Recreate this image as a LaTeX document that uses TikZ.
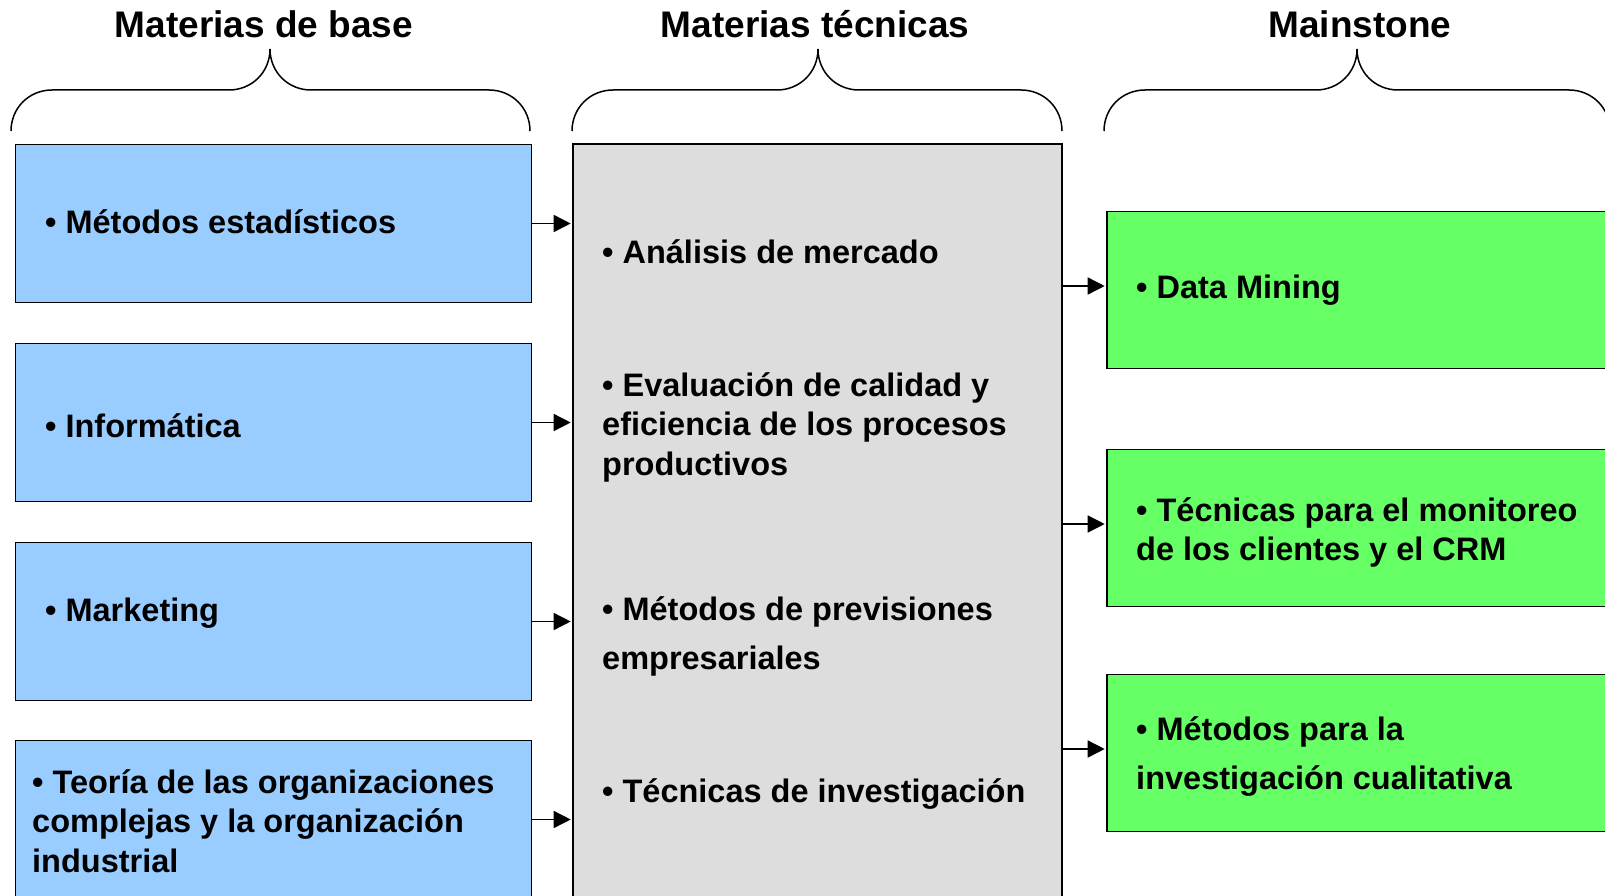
\documentclass[tikz,border=0pt]{standalone}
\usepackage{fontspec}
\setmainfont{Liberation Sans}
\usetikzlibrary{arrows.meta}
\definecolor{baseblue}{HTML}{99CCFF}
\definecolor{techgray}{HTML}{DDDDDD}
\definecolor{maingreen}{HTML}{66FF66}
\begin{document}
\begin{tikzpicture}[x=1pt,y=-1pt,
  every node/.append style={inner sep=0pt},
  box/.style={draw=black,line width=1.6pt,rectangle},
  basebox/.style={box,fill=baseblue,minimum width=516pt,minimum height=158pt},
  techbox/.style={box,fill=techgray,minimum width=489pt,minimum height=782pt},
  mainbox/.style={box,fill=maingreen,minimum width=520pt,minimum height=157pt},
  item/.style={anchor=base west,align=left,font=\fontsize{32.5}{39.5}\selectfont\bfseries},
  wideitem/.style={item,font=\fontsize{32.5}{49}\selectfont\bfseries},
  heading/.style={anchor=base,font=\fontsize{37}{44}\selectfont\bfseries},
  link/.style={line width=1.5pt,-{Triangle[length=17pt,width=17pt]},shorten >=1.5pt},
  curly/.style={line width=1.5pt}]
\useasboundingbox (0,0) rectangle (1605,896);
% headings
\node[heading] (baseT) at (264,38) {Materias de base};
\node[heading] (techT) at (815,38) {Materias técnicas};
\node[heading] (mainT) at (1360,38) {Mainstone};
% braces
\foreach \l/\m/\r in {11/270/530, 572/818/1062, 1104/1357/1610}
  \draw[curly] (\l,131) .. controls (\l,108) and ({\l+18},90) .. ({\l+41},90)
    -- ({\m-41},90) .. controls ({\m-18},90) and (\m,72) .. (\m,49)
    .. controls (\m,72) and ({\m+18},90) .. ({\m+41},90)
    -- ({\r-41},90) .. controls ({\r-18},90) and (\r,108) .. (\r,131);
% boxes
\node[basebox] (est) at (273.5,223.5) {};
\node[basebox] (inf) at (273.5,422.5) {};
\node[basebox] (mkt) at (273.5,621.5) {};
\node[basebox] (teo) at (273.5,819.5) {};
\node[techbox] (tech) at (817.5,535) {};
\node[mainbox] (dm) at (1367,290) {};
\node[mainbox] (crm) at (1367,528) {};
\node[mainbox] (cual) at (1367,753) {};
% texts (base = last line)
\node[item] (estT) at (45,233) {• Métodos estadísticos};
\node[item] (infT) at (45,437) {• Informática};
\node[item] (mktT) at (45,621) {• Marketing};
\node[item] (teoT) at (32,872) {• Teoría de las organizaciones\\complejas y la organización\\industrial};
\node[item] (anaT) at (602,263) {• Análisis de mercado};
\node[item] (evaT) at (602,475) {• Evaluación de calidad y\\eficiencia de los procesos\\productivos};
\node[wideitem] (prevT) at (602,669) {• Métodos de previsiones\\empresariales};
\node[item] (invT) at (602,802) {• Técnicas de investigación};
\node[item] (dmT) at (1136,298) {• Data Mining};
\node[item] (crmT) at (1136,560.5) {• Técnicas para el monitoreo\\de los clientes y el CRM};
\node[wideitem] (cualT) at (1136,789) {• Métodos para la\\investigación cualitativa};
% arrows
\foreach \n in {est,inf,mkt,teo}
  \draw[link] (\n.east) -- (\n.east -| tech.west);
\foreach \n in {dm,crm,cual}
  \draw[link] ([yshift=4pt]\n.west -| tech.east) -- ([yshift=4pt]\n.west);
\end{tikzpicture}
\end{document}
